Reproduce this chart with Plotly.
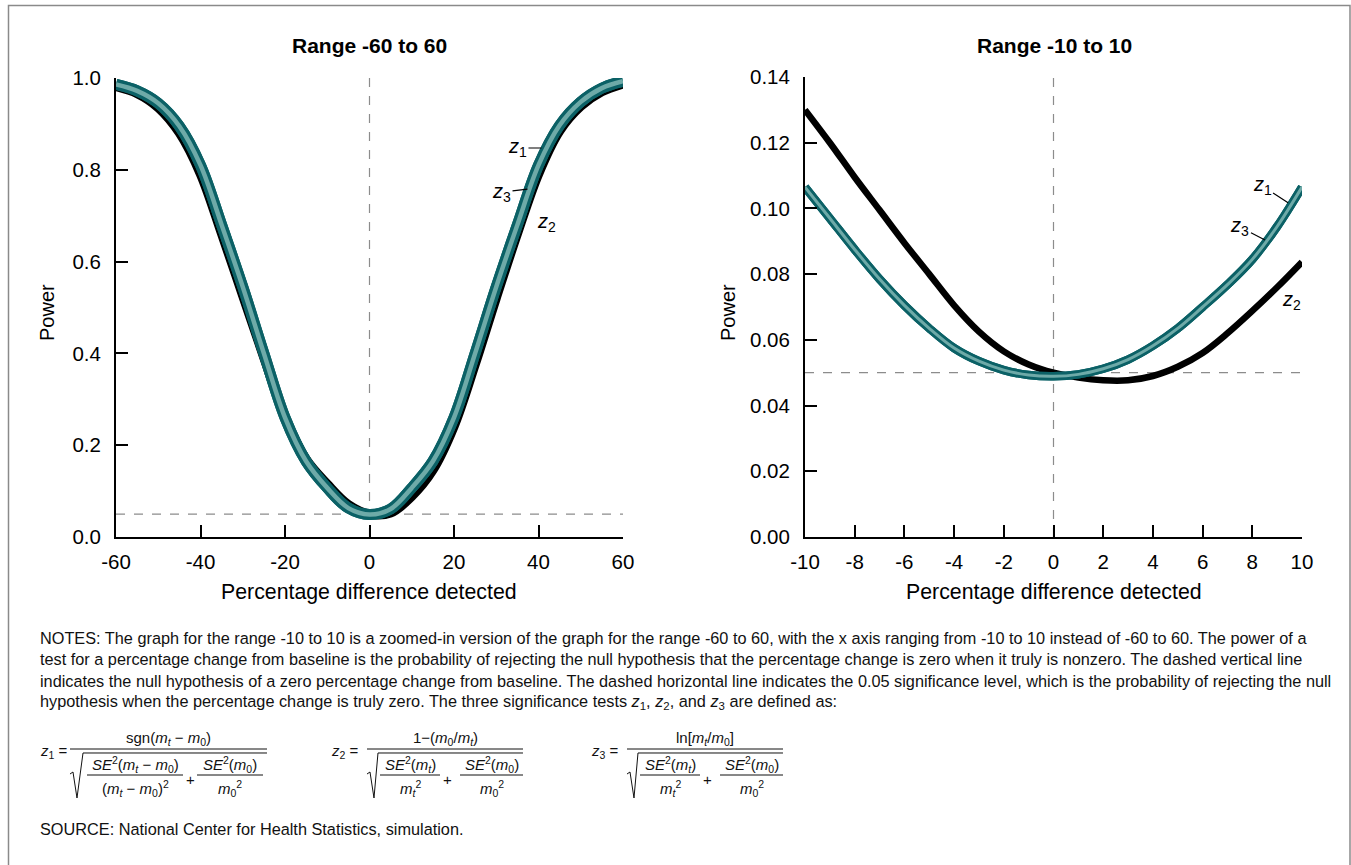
import plotly.graph_objects as go

# ---------------- data ----------------
PCT_WIDE = [-60, -55, -50, -45, -40, -35, -30, -25, -20, -15, -10, -5, 0,
            5, 10, 15, 20, 25, 30, 35, 40, 45, 50, 55, 60]
Z1_WIDE = [0.986, 0.972, 0.945, 0.895, 0.81, 0.68, 0.545, 0.40, 0.26, 0.165, 0.107, 0.063, 0.049,
           0.061, 0.107, 0.165, 0.26, 0.40, 0.545, 0.68, 0.81, 0.897, 0.948, 0.978, 0.993]
Z3_WIDE = [0.986, 0.972, 0.945, 0.895, 0.81, 0.68, 0.545, 0.40, 0.26, 0.165, 0.107, 0.063, 0.049,
           0.061, 0.107, 0.165, 0.26, 0.40, 0.545, 0.68, 0.81, 0.897, 0.948, 0.978, 0.993]
Z2_WIDE = [0.981, 0.966, 0.935, 0.88, 0.79, 0.66, 0.525, 0.39, 0.262, 0.170, 0.116, 0.071, 0.050,
           0.052, 0.088, 0.145, 0.24, 0.375, 0.52, 0.66, 0.79, 0.884, 0.938, 0.970, 0.987]

PCT_NARROW = [-10, -9, -8, -7, -6, -5, -4, -3, -2, -1, 0, 1, 2, 3, 4, 5, 6, 7, 8, 9, 10]
Z1_NARROW = [0.1065, 0.097, 0.0875, 0.0785, 0.0705, 0.0635, 0.0575, 0.0535, 0.0508, 0.0493, 0.0489,
             0.0495, 0.0512, 0.0540, 0.0582, 0.0635, 0.0700, 0.0768, 0.0845, 0.0945, 0.1065]
Z3_NARROW = [0.1065, 0.097, 0.0875, 0.0785, 0.0705, 0.0635, 0.0575, 0.0535, 0.0508, 0.0493, 0.0489,
             0.0495, 0.0512, 0.0540, 0.0582, 0.0635, 0.0700, 0.0768, 0.0845, 0.0945, 0.1065]
Z2_NARROW = [0.130, 0.120, 0.1095, 0.0995, 0.0895, 0.080, 0.0705, 0.0625, 0.0565, 0.0525, 0.0500,
             0.0485, 0.0477, 0.0477, 0.0490, 0.0518, 0.0560, 0.0620, 0.0688, 0.0760, 0.0837]

NULL_DIFF = 0
ALPHA = 0.05

WIDE_TICKS = [-60, -40, -20, 0, 20, 40, 60]
WIDE_TICK_LABELS = ["-60", "-40", "-20", "0", "20", "40", "60"]
NARROW_TICKS = [-10, -8, -6, -4, -2, 0, 2, 4, 6, 8, 10]
NARROW_TICK_LABELS = ["-10", "-8", "-6", "-4", "-2", "0", "2", "4", "6", "8", "10"]
WIDE_POWER_TICKS = [0.0, 0.2, 0.4, 0.6, 0.8, 1.0]
WIDE_POWER_LABELS = ["0.0", "0.2", "0.4", "0.6", "0.8", "1.0"]
NARROW_POWER_TICKS = [0.0, 0.02, 0.04, 0.06, 0.08, 0.10, 0.12, 0.14]
NARROW_POWER_LABELS = ["0.00", "0.02", "0.04", "0.06", "0.08", "0.10", "0.12", "0.14"]

TITLES = ["Range -60 to 60", "Range -10 to 10"]
X_TITLE = "Percentage difference detected"
Y_TITLE = "Power"

NOTES = [
    "NOTES: The graph for the range -10 to 10 is a zoomed-in version of the graph for the range -60 to 60, with the x axis ranging from -10 to 10 instead of -60 to 60. The power of a",
    "test for a percentage change from baseline is the probability of rejecting the null hypothesis that the percentage change is zero when it truly is nonzero. The dashed vertical line",
    "indicates the null hypothesis of a zero percentage change from baseline. The dashed horizontal line indicates the 0.05 significance level, which is the probability of rejecting the null",
    "hypothesis when the percentage change is truly zero. The three significance tests <i>z</i><sub>1</sub>, <i>z</i><sub>2</sub>, and <i>z</i><sub>3</sub> are defined as:",
]
SOURCE = "SOURCE: National Center for Health Statistics, simulation."

# ---------------- style ----------------
W, H = 1351, 865
FONT = "Liberation Sans, Arial, Helvetica, sans-serif"
TEAL = "#0b6166"
TEAL_LIGHT = "#6eaaa8"
BLACK = "#000000"


def px(x):
    return x / W


def py(y):
    return 1 - y / H


fig = go.Figure()


def add_curves(xs, z2, z1, z3, xa, ya, wb, wt, wi):
    fig.add_trace(go.Scatter(x=xs, y=z2, mode="lines", xaxis=xa, yaxis=ya,
                             line=dict(color=BLACK, width=wb, shape="spline", smoothing=1),
                             hoverinfo="skip", showlegend=False))
    for zz in (z3, z1):
        fig.add_trace(go.Scatter(x=xs, y=zz, mode="lines", xaxis=xa, yaxis=ya,
                                 line=dict(color=TEAL, width=wt, shape="spline", smoothing=1),
                                 hoverinfo="skip", showlegend=False))
        fig.add_trace(go.Scatter(x=xs, y=zz, mode="lines", xaxis=xa, yaxis=ya,
                                 line=dict(color=TEAL_LIGHT, width=wi, shape="spline", smoothing=1),
                                 hoverinfo="skip", showlegend=False))


add_curves(PCT_WIDE, Z2_WIDE, Z1_WIDE, Z3_WIDE, "x", "y", 9, 11, 4.5)
add_curves(PCT_NARROW, Z2_NARROW, Z1_NARROW, Z3_NARROW, "x2", "y2", 6.5, 8.5, 3)

axis_common = dict(showgrid=False, zeroline=False, showline=True, linecolor="black",
                   linewidth=2, ticks="inside", ticklen=12, tickwidth=2, tickcolor="black",
                   tickfont=dict(family=FONT, size=20.5, color="black"),
                   automargin=False)

fig.update_layout(
    template="none",
    width=W, height=H, autosize=False,
    margin=dict(l=0, r=0, t=0, b=0, pad=0, autoexpand=False),
    paper_bgcolor="white", plot_bgcolor="white",
    showlegend=False,
    font=dict(family=FONT, color="black"),
    xaxis=dict(domain=[px(116), px(623)], range=[-60, 60], tickvals=WIDE_TICKS,
               ticktext=WIDE_TICK_LABELS, anchor="y", ticklabelstandoff=5, **axis_common),
    yaxis=dict(domain=[py(537), py(78)], range=[0, 1], tickvals=WIDE_POWER_TICKS,
               ticktext=WIDE_POWER_LABELS, anchor="x", ticklabelstandoff=9, **axis_common),
    xaxis2=dict(domain=[px(805), px(1302)], range=[-10, 10], tickvals=NARROW_TICKS,
                ticktext=NARROW_TICK_LABELS, anchor="y2", ticklabelstandoff=5, **axis_common),
    yaxis2=dict(domain=[py(537), py(77)], range=[0, 0.14], tickvals=NARROW_POWER_TICKS,
                ticktext=NARROW_POWER_LABELS, anchor="x2", ticklabelstandoff=9, **axis_common),
)

# reference lines
dash = dict(color="#8c8c8c", width=1.2, dash="dash")
for xr, yr in (("x", "y"), ("x2", "y2")):
    fig.add_shape(type="line", xref=xr, yref=yr + " domain", x0=NULL_DIFF, x1=NULL_DIFF,
                  y0=0, y1=1, line=dash, layer="below")
    fig.add_shape(type="line", xref=xr + " domain", yref=yr, x0=0, x1=1,
                  y0=ALPHA, y1=ALPHA, line=dash, layer="below")

# outer frame
fig.add_shape(type="rect", xref="paper", yref="paper", x0=px(8.5), x1=px(1350),
              y0=-0.02, y1=py(5.5), line=dict(color="#8a8a8a", width=1.5))

ann = []
# titles
ann.append(dict(text="<b>" + TITLES[0] + "</b>", x=px(369), y=py(45), font=dict(size=21)))
ann.append(dict(text="<b>" + TITLES[1] + "</b>", x=px(1054), y=py(45), font=dict(size=21)))
# axis titles
for cx in (369, 1054):
    ann.append(dict(text=X_TITLE, x=px(cx), y=py(592), font=dict(size=21.3)))
for cx in (47, 728):
    ann.append(dict(text=Y_TITLE, x=px(cx), y=py(313), textangle=-90, font=dict(size=20)))

for a in ann:
    a.update(xref="paper", yref="paper", showarrow=False, xanchor="center", yanchor="middle")
    a["font"].update(family=FONT, color="black")
    fig.add_annotation(**a)


# curve labels
def zlab(k):
    return "<i>z</i><sub>%d</sub>" % k


lab_font = dict(family=FONT, size=20, color="black")
curve_labels = [
    ("x", "y", 40.7, 0.8475, 1, -24, 0, True),
    ("x", "y", 37.4, 0.758, 3, -26, 3, True),
    ("x", "y", 41.9, 0.686, 2, 0, 0, False),
    ("x2", "y2", 9.44, 0.1017, 1, -26, -17, True),
    ("x2", "y2", 8.51, 0.0904, 3, -25, -13, True),
    ("x2", "y2", 9.56, 0.0721, 2, 0, 0, False),
]
for xr, yr, xv, yv, k, ax, ay, arrow in curve_labels:
    if arrow:
        fig.add_annotation(xref=xr, yref=yr, x=xv, y=yv, text=zlab(k), showarrow=True,
                           arrowhead=0, arrowwidth=1.2, arrowcolor="black", ax=ax, ay=ay,
                           font=lab_font, standoff=0)
    else:
        fig.add_annotation(xref=xr, yref=yr, x=xv, y=yv, text=zlab(k), showarrow=False,
                           font=lab_font)

# notes
note_font = dict(family=FONT, size=16.3, color="#111111")
for i, line in enumerate(NOTES):
    fig.add_annotation(xref="paper", yref="paper", x=px(38), y=py(638 + i * 21.3), text=line,
                       showarrow=False, xanchor="left", yanchor="middle", font=note_font)
fig.add_annotation(xref="paper", yref="paper", x=px(38), y=py(829), text=SOURCE,
                   showarrow=False, xanchor="left", yanchor="middle", font=note_font)

# formulas
f_font = dict(family=FONT, size=15, color="#111111")
M_T = "<i>m</i><sub><i>t</i></sub>"
M_0 = "<i>m</i><sub>0</sub>"
SE2 = "<i>SE</i><sup>2</sup>"


def ftext(x, y, t, anchor="center"):
    fig.add_annotation(xref="paper", yref="paper", x=px(x), y=py(y), text=t, showarrow=False,
                       xanchor=anchor, yanchor="middle", font=f_font)


def hbar(x0, x1, y):
    fig.add_shape(type="line", xref="paper", yref="paper", x0=px(x0), x1=px(x1),
                  y0=py(y), y1=py(y), line=dict(color="#111111", width=1))


def radical(x0, xtop, x1, ytop, ybot):
    pts = [(x0, ybot - 24), (x0 + 3, ybot - 26), (x0 + 7, ybot), (xtop, ytop), (x1, ytop)]
    path = "M " + " L ".join("%.5f,%.5f" % (px(a), py(b)) for a, b in pts)
    fig.add_shape(type="path", xref="paper", yref="paper", path=path,
                  line=dict(color="#111111", width=1))


FORMULAS = [
    dict(x0=38, lhs=1, num="sgn(" + M_T + " − " + M_0 + ")", bar=(70, 267), rad=(70, 83),
         f1=(SE2 + "(" + M_T + " − " + M_0 + ")", "(" + M_T + " − " + M_0 + ")<sup>2</sup>", 87, 183),
         plus=190, f2=(SE2 + "(" + M_0 + ")", M_0 + "<sup>2</sup>", 197, 263)),
    dict(x0=329, lhs=2, num="1−(" + M_0 + "/" + M_T + ")", bar=(367, 523), rad=(367, 378),
         f1=(SE2 + "(" + M_T + ")", M_T + "<sup>2</sup>", 380, 440),
         plus=447, f2=(SE2 + "(" + M_0 + ")", M_0 + "<sup>2</sup>", 460, 523)),
    dict(x0=589, lhs=3, num="ln[" + M_T + "/" + M_0 + "]", bar=(627, 783), rad=(627, 638),
         f1=(SE2 + "(" + M_T + ")", M_T + "<sup>2</sup>", 640, 700),
         plus=707, f2=(SE2 + "(" + M_0 + ")", M_0 + "<sup>2</sup>", 720, 783)),
]
for f in FORMULAS:
    ftext(f["x0"], 751, "<i>z</i><sub>%d</sub> =" % f["lhs"], anchor="left")
    b0, b1 = f["bar"]
    ftext((b0 + b1) / 2, 738, f["num"])
    hbar(b0, b1, 749)
    radical(f["rad"][0], f["rad"][1], b1, 753, 798)
    for (top, bot, a0, a1) in (f["f1"], f["f2"]):
        ftext((a0 + a1) / 2, 764, top)
        hbar(a0, a1, 775)
        ftext((a0 + a1) / 2, 788, bot)
    ftext(f["plus"], 779, "+")

# remove the page's default body margin so the figure starts at the window corner
fig.write_html("out.html", config={"displayModeBar": False, "staticPlot": True},
               post_script="document.body.style.margin='0px';")
